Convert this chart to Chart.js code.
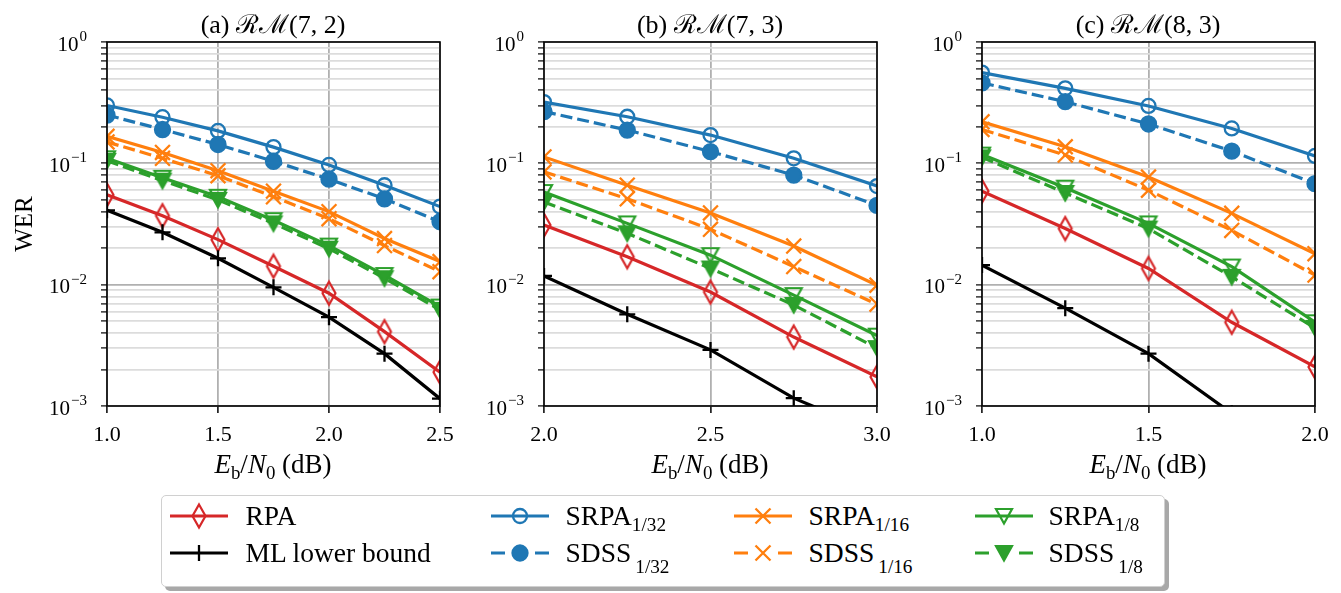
<!DOCTYPE html>
<html>
<head>
<meta charset="utf-8">
<script src="https://cdn.jsdelivr.net/npm/chart.js@4.4.0/dist/chart.umd.min.js"></script>
<style>
body { margin: 0; background: #fff; }
#page { position: relative; width: 1341px; height: 593px; overflow: hidden;
        font-family: "Liberation Serif", "Times New Roman", serif; color: #000; }
canvas.plot { position: absolute; top: 0; }
.ttl { position: absolute; top: 5px; font-size: 26px; white-space: nowrap; transform: translateX(-50%); }
.xl { position: absolute; top: 449px; font-size: 27px; white-space: nowrap; transform: translateX(-50%); }
.xl sub { font-size: 0.7em; vertical-align: -0.3em; line-height: 0; }
#legend { position: absolute; left: 161px; top: 495px; width: 1002px; height: 90px;
          border: 1.5px solid #d0d0d0; border-radius: 5px; background: #fff;
          box-shadow: 4px 4px 0 #a8a8a8; }
.sym { position: absolute; }
.lt { position: absolute; font-size: 27.5px; line-height: 32px; white-space: nowrap; }
.lt sub { font-size: 0.7em; vertical-align: -0.3em; line-height: 0; }
.lt sub.low { vertical-align: -0.6em; margin-left: 4px; }
</style>
</head>
<body>
<div id="page">
  <canvas id="chart-a" class="plot"></canvas>
  <canvas id="chart-b" class="plot"></canvas>
  <canvas id="chart-c" class="plot"></canvas>
  <div class="ttl" style="left:273px">(a) ℛℳ(7, 2)</div>
  <div class="ttl" style="left:710px">(b) ℛℳ(7, 3)</div>
  <div class="ttl" style="left:1148px">(c) ℛℳ(8, 3)</div>
  <div class="xl" style="left:273px"><i>E</i><sub>b</sub>/<i>N</i><sub>0</sub> (dB)</div>
  <div class="xl" style="left:710px"><i>E</i><sub>b</sub>/<i>N</i><sub>0</sub> (dB)</div>
  <div class="xl" style="left:1148px"><i>E</i><sub>b</sub>/<i>N</i><sub>0</sub> (dB)</div>
  <div id="legend"></div>
</div>
<script>
// Eb/N0 points of each panel
const xA = [1.0, 1.25, 1.5, 1.75, 2.0, 2.25, 2.5];
const xB = [2.0, 2.25, 2.5, 2.75, 3.0];
const xC = [1.0, 1.25, 1.5, 1.75, 2.0];

// (a) RM(7,2)
const rpaA    = [0.055, 0.037, 0.0235, 0.0142, 0.0085, 0.0041, 0.0019];
const mlA     = [0.041, 0.027, 0.0165, 0.0095, 0.0054, 0.0027, 0.00115];
const srpa32A = [0.30, 0.24, 0.185, 0.136, 0.097, 0.066, 0.044];
const sdss32A = [0.25, 0.19, 0.143, 0.104, 0.074, 0.051, 0.033];
const srpa16A = [0.167, 0.123, 0.087, 0.059, 0.040, 0.024, 0.0155];
const sdss16A = [0.15, 0.11, 0.079, 0.053, 0.035, 0.021, 0.0128];
const srpa8A  = [0.11, 0.076, 0.053, 0.034, 0.021, 0.012, 0.0066];
const sdss8A  = [0.105, 0.072, 0.050, 0.032, 0.0198, 0.0113, 0.0062];

// (b) RM(7,3)
const rpaB    = [0.031, 0.017, 0.0087, 0.0037, 0.00174];
const mlB     = [0.0118, 0.0057, 0.0029, 0.00116, 0.0006];
const srpa32B = [0.32, 0.242, 0.171, 0.11, 0.065];
const sdss32B = [0.267, 0.188, 0.125, 0.080, 0.045];
const srpa16B = [0.113, 0.066, 0.039, 0.0208, 0.0099];
const sdss16B = [0.085, 0.051, 0.0286, 0.0141, 0.0069];
const srpa8B  = [0.058, 0.032, 0.0175, 0.0082, 0.0038];
const sdss8B  = [0.048, 0.0265, 0.0136, 0.0068, 0.003];

// (c) RM(8,3)
const rpaC    = [0.059, 0.029, 0.0136, 0.0049, 0.0021];
const mlC     = [0.0145, 0.0064, 0.0027, 0.00087, 0.0003];
const srpa32C = [0.56, 0.415, 0.297, 0.194, 0.115];
const sdss32C = [0.46, 0.322, 0.211, 0.126, 0.068];
const srpa16C = [0.22, 0.137, 0.077, 0.0387, 0.018];
const sdss16C = [0.19, 0.117, 0.060, 0.028, 0.012];
const srpa8C  = [0.118, 0.063, 0.032, 0.0141, 0.0049];
const sdss8C  = [0.112, 0.057, 0.029, 0.0116, 0.0044];

// y axis tick labels (10^e)
const yDecades = [1, 0.1, 0.01, 0.001];
const yExponents = ['0', '\u22121', '\u22122', '\u22123'];
const yTickValues = [];
[-3, -2, -1].forEach(e => { for (let k = 1; k <= 9; k++) yTickValues.push(k * Math.pow(10, e)); });
yTickValues.push(1);

const RED = '#d62728', BLUE = '#1f77b4', ORANGE = '#ff7f0e', GREEN = '#2ca02c';
const DASH = [12, 5];

function markerCanvas(w, h, draw) {
    const c = document.createElement('canvas');
    c.width = w; c.height = h;
    draw(c.getContext('2d'));
    return c;
}
const diamondImg = markerCanvas(18, 28, g => {
    g.strokeStyle = RED; g.lineWidth = 2.2;
    g.beginPath(); g.moveTo(9, 2.5); g.lineTo(15.5, 14); g.lineTo(9, 25.5); g.lineTo(2.5, 14); g.closePath();
    g.stroke();
});
function triDown(filled) {
    return markerCanvas(22, 22, g => {
        g.strokeStyle = GREEN; g.fillStyle = GREEN; g.lineWidth = 2.2;
        g.beginPath(); g.moveTo(3, 4); g.lineTo(19, 4); g.lineTo(11, 18.5); g.closePath();
        if (filled) g.fill();
        g.stroke();
    });
}
const triOpenImg = triDown(false);
const triFilledImg = triDown(true);

const styles = [
    { label: 'RPA', color: RED, fill: 'rgba(0,0,0,0)', point: diamondImg, radius: 9, dash: [] },
    { label: 'ML lower bound', color: '#000', fill: 'rgba(0,0,0,0)', point: 'cross', radius: 8, dash: [] },
    { label: 'SRPA 1/32', color: BLUE, fill: 'rgba(0,0,0,0)', point: 'circle', radius: 7, dash: [] },
    { label: 'SDSS 1/32', color: BLUE, fill: BLUE, point: 'circle', radius: 7.5, dash: DASH },
    { label: 'SRPA 1/16', color: ORANGE, fill: 'rgba(0,0,0,0)', point: 'crossRot', radius: 10.5, dash: [] },
    { label: 'SDSS 1/16', color: ORANGE, fill: 'rgba(0,0,0,0)', point: 'crossRot', radius: 10.5, dash: DASH },
    { label: 'SRPA 1/8', color: GREEN, fill: 'rgba(0,0,0,0)', point: triOpenImg, radius: 9, dash: [] },
    { label: 'SDSS 1/8', color: GREEN, fill: GREEN, point: triFilledImg, radius: 9, dash: DASH }
];

function makeDatasets(xs, seriesList) {
    return seriesList.map((ys, i) => {
        const s = styles[i];
        return {
            label: s.label,
            data: xs.map((x, j) => ({ x: x, y: ys[j] })),
            borderColor: s.color,
            backgroundColor: s.fill,
            borderWidth: 3.2,
            borderDash: s.dash,
            pointStyle: s.point,
            pointRadius: s.radius,
            pointBorderWidth: 2.3,
            pointBorderColor: s.color,
            pointBackgroundColor: s.fill,
            pointHoverRadius: s.radius,
            tension: 0,
            clip: 0,
            order: 7 - i
        };
    });
}

function isDecade(v) {
    const l = Math.log10(v);
    return Math.abs(l - Math.round(l)) < 1e-6;
}

const frameAndLabels = {
    id: 'frameAndLabels',
    afterDraw(chart) {
        const { ctx, chartArea: a } = chart;
        const y = chart.scales.y;
        ctx.save();
        ctx.strokeStyle = '#000';
        ctx.lineWidth = 1.6;
        ctx.strokeRect(a.left, a.top, a.right - a.left, a.bottom - a.top);
        ctx.fillStyle = '#000';
        yDecades.forEach((v, i) => {
            const py = y.getPixelForValue(v);
            const xr = a.left - 20;
            ctx.font = '15px "Liberation Serif"';
            const ew = ctx.measureText(yExponents[i]).width;
            ctx.textAlign = 'right';
            ctx.textBaseline = 'alphabetic';
            ctx.fillText(yExponents[i], xr, py - 1);
            ctx.font = '21px "Liberation Serif"';
            ctx.textBaseline = 'middle';
            ctx.fillText('10', xr - ew - 1, py + 3);
        });
        ctx.restore();
    }
};

const PLOT_W = 333, TOP = 42, BOTTOM = 406, CANVAS_H = 450, RIGHT_PAD = 30;

function makeChart(id, left, yWidth, xs, xMin, xMax, seriesList, showYTitle) {
    const canvas = document.getElementById(id);
    const w = yWidth + PLOT_W + RIGHT_PAD;
    canvas.width = w; canvas.height = CANVAS_H;
    canvas.style.left = left + 'px';
    canvas.style.width = w + 'px'; canvas.style.height = CANVAS_H + 'px';
    return new Chart(canvas.getContext('2d'), {
        type: 'line',
        data: { datasets: makeDatasets(xs, seriesList) },
        plugins: [frameAndLabels],
        options: {
            responsive: false,
            animation: false,
            events: [],
            layout: { padding: { top: TOP, right: RIGHT_PAD, left: 0, bottom: 0 } },
            plugins: { legend: { display: false }, tooltip: { enabled: false }, title: { display: false } },
            scales: {
                x: {
                    type: 'linear', min: xMin, max: xMax,
                    afterFit: s => { s.height = CANVAS_H - BOTTOM; s.paddingLeft = 0; s.paddingRight = 0; },
                    ticks: { stepSize: 0.5, color: '#000', padding: 9, maxRotation: 0,
                             font: { family: '"Liberation Serif"', size: 22 },
                             callback: v => Number(v).toFixed(1) },
                    grid: { color: '#b0b0b0', lineWidth: 1.8, tickLength: 7, tickColor: '#000', tickWidth: 1.5 },
                    border: { display: false }
                },
                y: {
                    type: 'logarithmic', min: 0.001, max: 1,
                    afterFit: s => { s.width = yWidth; s.paddingTop = 0; s.paddingBottom = 0; },
                    afterBuildTicks: s => { s.ticks = yTickValues.map(v => ({ value: v, major: isDecade(v) })); },
                    ticks: { display: false, autoSkip: false },
                    grid: {
                        color: c => (c.tick && isDecade(c.tick.value)) ? '#b0b0b0' : '#dcdcdc',
                        lineWidth: 1.8, tickLength: 6, tickColor: '#000', tickWidth: 1.2
                    },
                    border: { display: false },
                    title: { display: showYTitle, text: 'WER', color: '#000',
                             font: { family: '"Liberation Serif"', size: 25 },
                             padding: { top: 10, bottom: 0 } }
                }
            }
        }
    });
}

makeChart('chart-a', 0, 107, xA, 1.0, 2.5,
    [rpaA, mlA, srpa32A, sdss32A, srpa16A, sdss16A, srpa8A, sdss8A], true);
makeChart('chart-b', 440, 104, xB, 2.0, 3.0,
    [rpaB, mlB, srpa32B, sdss32B, srpa16B, sdss16B, srpa8B, sdss8B], false);
makeChart('chart-c', 890, 92, xC, 1.0, 2.0,
    [rpaC, mlC, srpa32C, sdss32C, srpa16C, sdss16C, srpa8C, sdss8C], false);

// legend
const legendItems = [
    { s: 0, col: 0, row: 0, html: 'RPA' },
    { s: 1, col: 0, row: 1, html: 'ML lower bound' },
    { s: 2, col: 1, row: 0, html: 'SRPA<sub>1/32</sub>' },
    { s: 3, col: 1, row: 1, html: 'SDSS<sub class="low">1/32</sub>' },
    { s: 4, col: 2, row: 0, html: 'SRPA<sub>1/16</sub>' },
    { s: 5, col: 2, row: 1, html: 'SDSS<sub class="low">1/16</sub>' },
    { s: 6, col: 3, row: 0, html: 'SRPA<sub>1/8</sub>' },
    { s: 7, col: 3, row: 1, html: 'SDSS<sub class="low">1/8</sub>' }
];
const symX = [170, 491, 734, 975], textX = [246, 566, 809, 1049], rowY = [516, 553];
const legend = document.getElementById('legend');
const LX = 161 + 1.5, LY = 495 + 1.5;

legendItems.forEach(it => {
    const s = styles[it.s];
    const c = document.createElement('canvas');
    c.width = 58; c.height = 30;
    c.className = 'sym';
    c.style.left = (symX[it.col] - LX) + 'px';
    c.style.top = (rowY[it.row] - 15 - LY) + 'px';
    const g = c.getContext('2d');
    g.strokeStyle = s.color; g.fillStyle = s.color; g.lineWidth = 3.2;
    g.beginPath();
    if (s.dash.length) {
        g.moveTo(0, 15); g.lineTo(14, 15); g.moveTo(44, 15); g.lineTo(58, 15);
    } else {
        g.moveTo(0, 15); g.lineTo(58, 15);
    }
    g.stroke();
    g.lineWidth = 2.3;
    const cx = 29, cy = 15;
    if (s.point === 'circle') {
        g.beginPath(); g.arc(cx, cy, s.radius, 0, Math.PI * 2);
        if (s.fill === BLUE) g.fill();
        g.stroke();
    } else if (s.point === 'cross') {
        g.beginPath(); g.moveTo(cx, cy - 8); g.lineTo(cx, cy + 8); g.stroke();
    } else if (s.point === 'crossRot') {
        g.beginPath(); g.moveTo(cx - 7.5, cy - 7.5); g.lineTo(cx + 7.5, cy + 7.5);
        g.moveTo(cx + 7.5, cy - 7.5); g.lineTo(cx - 7.5, cy + 7.5); g.stroke();
    } else {
        g.drawImage(s.point, cx - s.point.width / 2, cy - s.point.height / 2);
    }
    legend.appendChild(c);

    const t = document.createElement('div');
    t.className = 'lt';
    t.style.left = (textX[it.col] - LX) + 'px';
    t.style.top = (rowY[it.row] - 16 - LY) + 'px';
    t.innerHTML = it.html;
    legend.appendChild(t);
});
</script>
</body>
</html>
